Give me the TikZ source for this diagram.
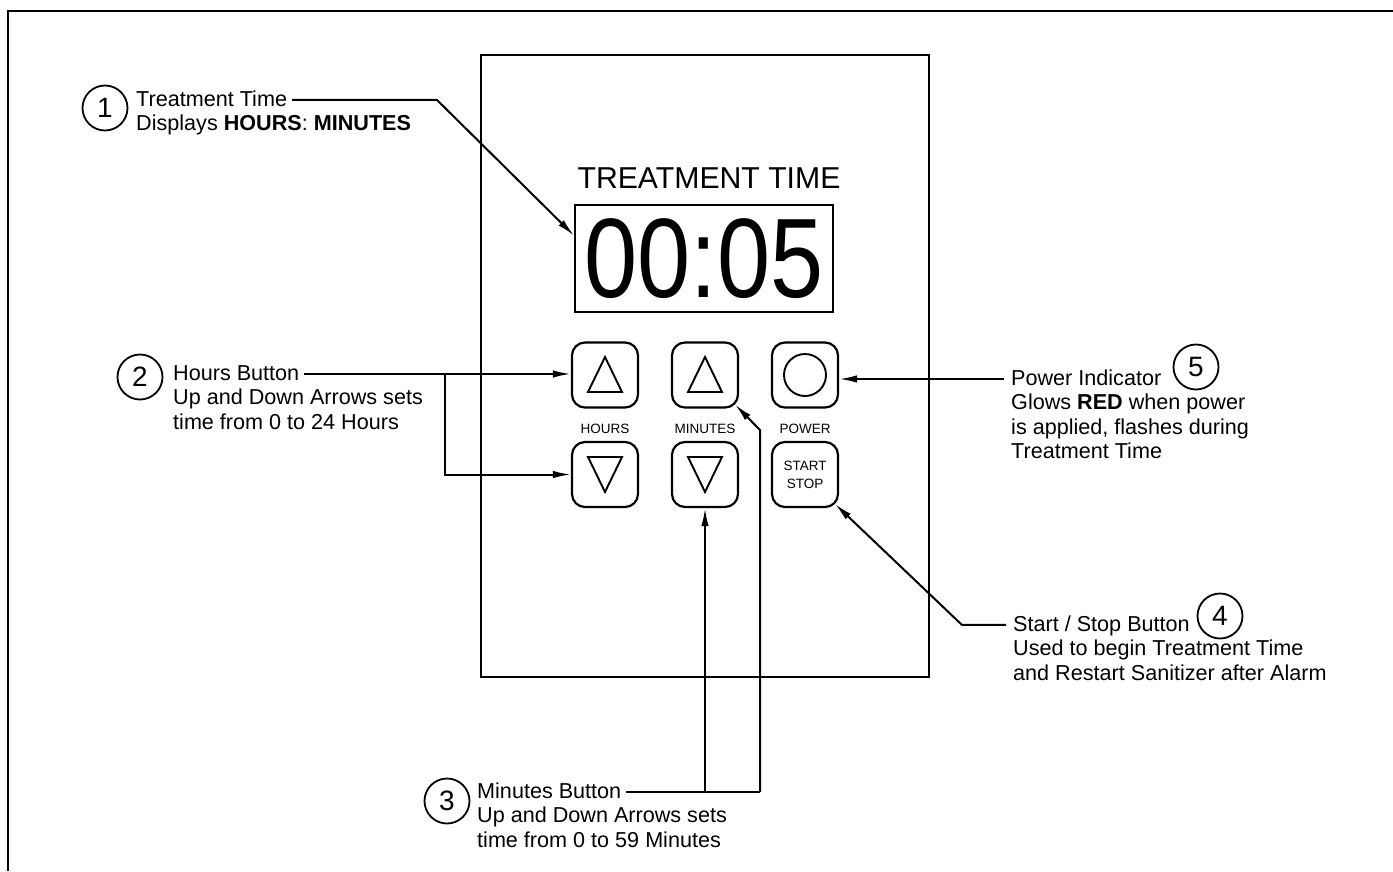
\documentclass[tikz,border=0pt]{standalone}
\usepackage{fontspec}
\setmainfont{Liberation Sans}
\usepackage{graphicx}
\usetikzlibrary{arrows.meta, positioning}
\tikzset{
    btn/.style={draw, line width=2.2pt, rounded corners=13pt, minimum width=66pt, minimum height=65pt, inner sep=0pt}, % 面板按键
    sym/.style={line width=1.9pt}, % 按键符号
    lbl/.style={inner sep=0pt, font=\fontsize{13.5}{18}\selectfont},
    num/.style={draw, circle, line width=1.8pt, minimum size=45pt, inner sep=0pt, font=\fontsize{28}{28}\selectfont}, % 圆圈编号
    ttl/.style={inner sep=0pt, anchor=base west, text height=19.4pt, text depth=7.35pt, font=\fontsize{21.6}{24.5}\selectfont},
    body/.style={inner sep=0pt, anchor=north west, align=left, font=\fontsize{21.6}{24.5}\selectfont},
    lead/.style={line width=2pt},
    arr/.style={lead, -{Latex[length=18pt, width=7.5pt]}} % 引线箭头
}

\begin{document}
\begin{tikzpicture}[x=1pt, y=-1pt]
    \useasboundingbox (0,0) rectangle (1393,871);
    \draw[line width=1.8pt] (8,871) -- (8,11) -- (1393,11);
    \draw[line width=2.4pt] (481,55) rectangle (929,677);

    \node[font=\fontsize{30.2}{30}\selectfont, inner sep=0pt] (head) at (709,178) {TREATMENT TIME};
    \node[draw, line width=1.8pt, minimum width=258pt, minimum height=107pt, inner sep=0pt] (disp) at (704,258.5) {\scalebox{0.845}[1]{\fontsize{113}{113}\selectfont 00:05}};

    \node[btn] (hup) at (605,375) {};
    \node[btn] (mup) at (705,375) {};
    \node[btn] (pwr) at (805,375) {};
    \node[btn] (hdn) at (605,474.5) {};
    \node[btn] (mdn) at (705,474.5) {};
    \node[btn, align=center, font=\fontsize{13.5}{18}\selectfont] (ss) at (805,474.5) {START\\STOP};

    \foreach \b in {hup, mup} {\draw[sym] (\b.center) ++(-17,17) -- ++(34,0) -- ++(-17,-35) -- cycle;}
    \foreach \b in {hdn, mdn} {\draw[sym] (\b.center) ++(-17,-17.5) -- ++(34,0) -- ++(-17,35) -- cycle;}
    \draw[sym] (pwr.center) circle (21);

    \node[lbl, below=15pt of hup] (lhrs) {HOURS};
    \node[lbl, below=15pt of mup] (lmin) {MINUTES};
    \node[lbl, below=15pt of pwr] (lpwr) {POWER};

    % 圆角上的箭头落点
    \coordinate (mupc) at ([shift={(30,29.5)}]mup.center);
    \coordinate (ssc) at ([shift={(30,29.5)}]ss.center);

    % 1
    \node[num] (n1) at (105,108) {1};
    \node[ttl] (t1) at (136,106) {Treatment Time};
    \node[body] (d1) at (t1.south west) {\strut Displays \textbf{HOURS}: \textbf{MINUTES}};
    \coordinate (k1) at (437,0);
    \draw[arr] ([xshift=5pt]t1.east) -- (t1.east -| k1) -- (disp.170);

    % 2
    \node[num] (n2) at (140,377) {2};
    \node[ttl] (t2) at (173,380) {Hours Button};
    \node[body] (d2) at (t2.south west) {\strut Up and Down Arrows sets\\time from 0 to 24 Hours};
    \coordinate (k2) at (445,0);
    \draw[arr] ([xshift=5pt]t2.east) -- (t2.east -| hup.west);
    \draw[arr] (t2.east -| k2) |- (hdn.west);

    % 3
    \node[num] (n3) at (447,801) {3};
    \node[ttl] (t3) at (477,798) {Minutes Button};
    \node[body] (d3) at (t3.south west) {\strut Up and Down Arrows sets\\time from 0 to 59 Minutes};
    \coordinate (k3) at (760,430);
    \draw[lead] ([xshift=5pt]t3.east) -- (t3.east -| k3);
    \draw[arr] (t3.east -| mdn.south) -- (mdn.south);
    \draw[arr] (t3.east -| k3) -- (k3) -- (mupc);

    % 5
    \node[num] (n5) at (1196,367) {5};
    \node[ttl] (t5) at (1011,385) {Power Indicator};
    \node[body] (d5) at (t5.south west) {\strut Glows \textbf{RED} when power\\is applied, flashes during\\Treatment Time};
    \draw[arr] ([xshift=-7pt]t5.west) -- (t5.west -| pwr.east);

    % 4
    \node[num] (n4) at (1220,616) {4};
    \node[ttl] (t4) at (1013,631) {Start / Stop Button};
    \node[body] (d4) at (t4.south west) {\strut Used to begin Treatment Time\\and Restart Sanitizer after Alarm};
    \coordinate (k4) at (962,0);
    \draw[arr] ([xshift=-7pt]t4.west) -- (t4.west -| k4) -- (ssc);
\end{tikzpicture}
\end{document}
